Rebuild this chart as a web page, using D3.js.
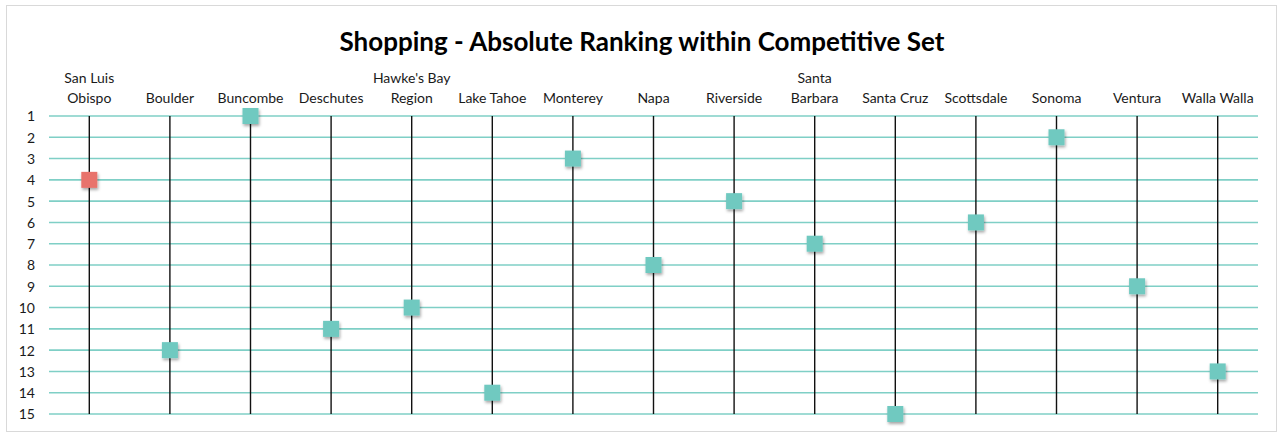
<!DOCTYPE html>
<html>
<head>
<meta charset="utf-8">
<script src="https://cdn.jsdelivr.net/npm/d3@7"></script>
<style>
  html, body { margin: 0; padding: 0; background: #fff; }
  svg { display: block; }
  text { font-family: Lato, "Open Sans", sans-serif; fill: #1a1a1a; }
</style>
</head>
<body>
<svg id="chart" width="1279" height="434"></svg>
<script>
// Destinations in the competitive set (line breaks in labels marked by "\n")
const categories = [
  "San Luis\nObispo", "Boulder", "Buncombe", "Deschutes", "Hawke's Bay\nRegion",
  "Lake Tahoe", "Monterey", "Napa", "Riverside", "Santa\nBarbara",
  "Santa Cruz", "Scottsdale", "Sonoma", "Ventura", "Walla Walla"
];
// Shopping rank for each destination (1 = best)
const ranks = [4, 12, 1, 11, 10, 14, 3, 8, 5, 7, 15, 6, 2, 9, 13];
// The highlighted (home) destination
const highlight = ["San Luis\nObispo"];
const rankTicks = d3.range(1, 16);
const title = "Shopping - Absolute Ranking within Competitive Set";

const svg = d3.select("#chart");
const W = 1279, H = 434;

// chart frame
svg.append("rect")
  .attr("x", 6.5).attr("y", 5.5)
  .attr("width", W - 9).attr("height", H - 8)
  .attr("fill", "#fff").attr("stroke", "#d9d9d9").attr("stroke-width", 1);

const plot = { left: 49, right: 1258, top: 116, bottom: 414 };

const x = d3.scaleBand().domain(categories).range([plot.left, plot.right]);
const y = d3.scaleLinear().domain([1, 15]).range([plot.top, plot.bottom]);

const defs = svg.append("defs");
const f = defs.append("filter").attr("id", "shadow")
  .attr("x", "-40%").attr("y", "-40%").attr("width", "200%").attr("height", "200%");
f.append("feDropShadow").attr("dx", 1).attr("dy", 2).attr("stdDeviation", 1.4)
  .attr("flood-color", "#000").attr("flood-opacity", 0.35);

// title
svg.append("text")
  .attr("x", 642).attr("y", 51)
  .attr("text-anchor", "middle")
  .attr("font-size", 26).attr("font-weight", 700)
  .style("fill", "#000")
  .text(title);

// horizontal rank gridlines
svg.append("g").selectAll("line").data(rankTicks).join("line")
  .attr("x1", plot.left).attr("x2", plot.right)
  .attr("y1", d => y(d)).attr("y2", d => y(d))
  .attr("stroke", "#7fcfc6").attr("stroke-width", 1.6);

// rank axis labels
const yAxis = d3.axisLeft(y).tickValues(rankTicks).tickSize(0).tickPadding(0);
const yg = svg.append("g").attr("transform", "translate(35,0)").call(yAxis);
yg.select(".domain").remove();
yg.selectAll("text")
  .attr("font-size", 14).attr("font-family", "Lato, 'Open Sans', sans-serif")
  .style("fill", "#1a1a1a").attr("dy", "0.35em");

// vertical drop lines per destination
svg.append("g").selectAll("line").data(categories).join("line")
  .attr("x1", d => x(d) + x.bandwidth() / 2).attr("x2", d => x(d) + x.bandwidth() / 2)
  .attr("y1", y(1)).attr("y2", y(15))
  .attr("stroke", "#111").attr("stroke-width", 1.4);

// destination labels above the plot
const labels = svg.append("g").selectAll("text").data(categories).join("text")
  .attr("text-anchor", "middle")
  .attr("font-size", 14)
  .attr("x", d => x(d) + x.bandwidth() / 2)
  .attr("y", 103);
labels.each(function(d) {
  const lines = d.split("\n");
  const t = d3.select(this);
  lines.forEach((ln, i) => {
    t.append("tspan")
      .attr("x", x(d) + x.bandwidth() / 2)
      .attr("dy", i === 0 ? -(lines.length - 1) * 20 : 20)
      .text(ln);
  });
});

// rank markers
const size = 16;
svg.append("g").selectAll("rect").data(categories).join("rect")
  .attr("x", d => x(d) + x.bandwidth() / 2 - size / 2)
  .attr("y", (d, i) => y(ranks[i]) - size / 2)
  .attr("width", size).attr("height", size)
  .attr("fill", d => highlight.includes(d) ? "#e8736c" : "#6fc9c0")
  .attr("filter", "url(#shadow)");
</script>
</body>
</html>
